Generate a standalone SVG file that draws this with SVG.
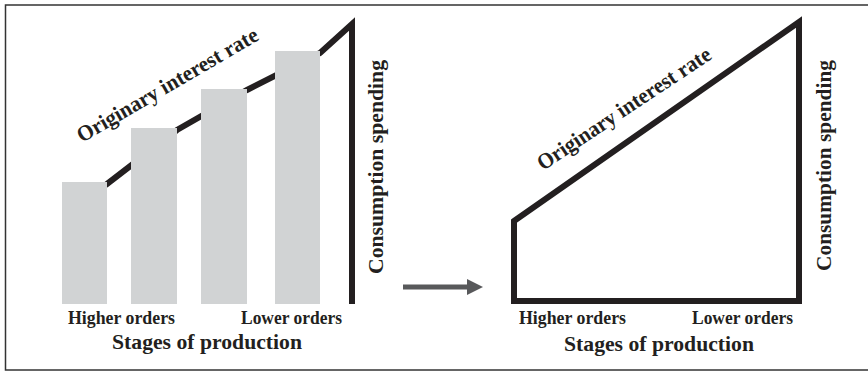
<svg xmlns="http://www.w3.org/2000/svg" width="868" height="372" viewBox="0 0 868 372">
<style>
.t{font-family:"Liberation Serif","Times New Roman",serif;font-weight:bold;fill:#231f20}
.big{font-size:22px}
.sm{font-size:18px}
.bar{fill:#d1d3d4}
.ln{fill:none;stroke:#231f20;stroke-width:6;stroke-linejoin:miter;stroke-miterlimit:10}
</style>
<rect x="5.5" y="5" width="870" height="365" fill="#fff" stroke="#333" stroke-width="1.5"/>
<g id="left-chart">
<polyline class="ln" points="95,192 107,184 177,130 247,90 320,53 352,24 352,304"/>
<rect class="bar" x="62" y="182" width="45" height="122"/>
<rect class="bar" x="131" y="128" width="46" height="176"/>
<rect class="bar" x="201" y="89" width="46" height="215"/>
<rect class="bar" x="275" y="51" width="45" height="253"/>
<text class="t big" transform="translate(82,143) rotate(-30.2)" textLength="206" lengthAdjust="spacingAndGlyphs">Originary interest rate</text>
<text class="t big" transform="translate(383,274) rotate(-90)" textLength="214" lengthAdjust="spacingAndGlyphs">Consumption spending</text>
<text class="t sm" x="68" y="324" textLength="107" lengthAdjust="spacingAndGlyphs">Higher orders</text>
<text class="t sm" x="241" y="324" textLength="101" lengthAdjust="spacingAndGlyphs">Lower orders</text>
<text class="t big" x="112" y="349" textLength="190" lengthAdjust="spacingAndGlyphs">Stages of production</text>
</g>
<g id="connectors">
<line x1="403" y1="287" x2="469" y2="287" stroke="#58595b" stroke-width="5"/>
<polygon points="467,279 483,287 467,295" fill="#58595b"/>
</g>
<g id="right-chart">
<polygon class="ln" points="514,221 799,22 799,301 514,301"/>
<text class="t big" transform="translate(543,171) rotate(-33.6)" textLength="204" lengthAdjust="spacingAndGlyphs">Originary interest rate</text>
<text class="t big" transform="translate(831,271) rotate(-90)" textLength="211" lengthAdjust="spacingAndGlyphs">Consumption spending</text>
<text class="t sm" x="519" y="324" textLength="107" lengthAdjust="spacingAndGlyphs">Higher orders</text>
<text class="t sm" x="692" y="324" textLength="101" lengthAdjust="spacingAndGlyphs">Lower orders</text>
<text class="t big" x="564" y="351" textLength="190" lengthAdjust="spacingAndGlyphs">Stages of production</text>
</g>
</svg>
